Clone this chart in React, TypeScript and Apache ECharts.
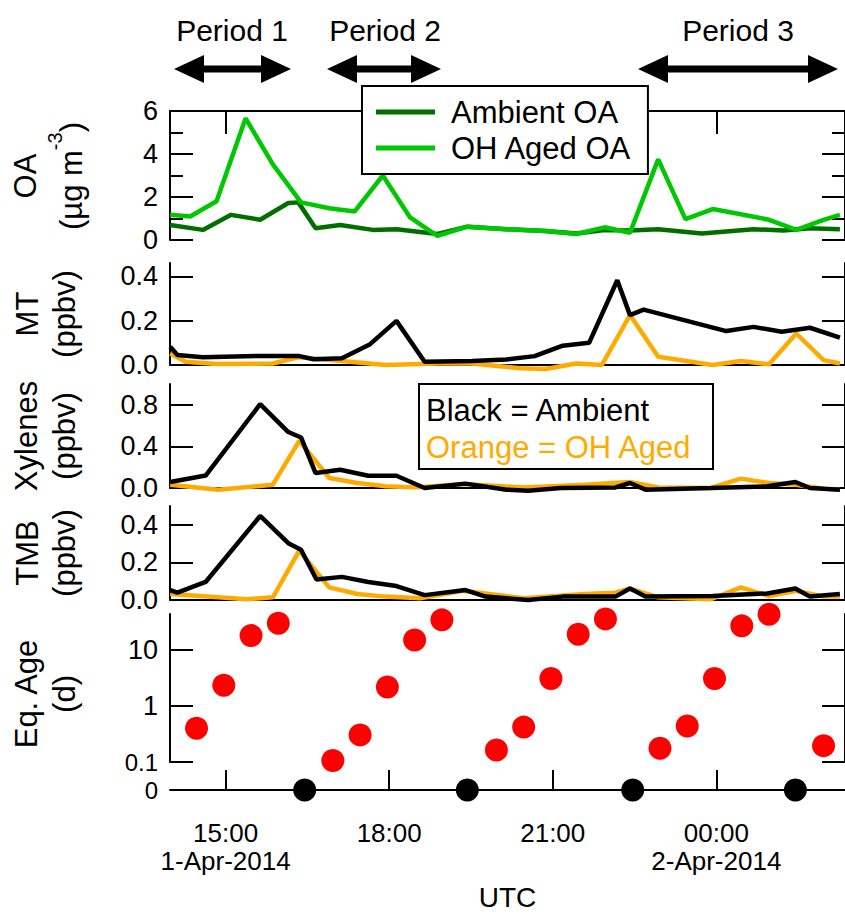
import React, { useEffect, useRef } from 'react';
import * as echarts from 'echarts';

// ---------- data ----------
const xTickHours = [15, 18, 21, 24];
const xTickLabels = ['15:00\n1-Apr-2014', '18:00', '21:00', '00:00\n2-Apr-2014'];

const oaAmbientTimes = ['13:59','14:35','15:06','15:38','16:09','16:20','16:39','17:06','17:42','18:08','18:53','19:26','20:09','20:52','21:26','21:57','22:25','22:56','23:44','00:41','01:14','01:43','02:16'];
const oaAmbient = [0.70,0.47,1.17,0.94,1.72,1.75,0.55,0.70,0.47,0.50,0.28,0.62,0.50,0.42,0.30,0.47,0.44,0.50,0.30,0.50,0.44,0.55,0.50];
const oaAgedTimes = ['13:59','14:21','14:50','15:22','15:52','16:23','16:54','17:22','17:53','18:23','18:53','19:26','20:09','20:52','21:26','21:57','22:25','22:56','23:26','23:56','00:27','00:58','01:28','01:58','02:16'];
const oaAged = [1.17,1.09,1.80,5.66,3.52,1.75,1.48,1.33,3.00,1.05,0.19,0.62,0.50,0.42,0.28,0.59,0.34,3.75,0.97,1.44,1.20,0.94,0.47,0.94,1.17];

const mtAmbientTimes = ['13:59','14:07','14:35','15:38','16:20','16:37','17:08','17:39','18:08','18:39','19:31','20:09','20:40','21:11','21:40','22:11','22:25','22:40','00:11','00:41','01:12','01:43','02:16'];
const mtAmbient = [0.082,0.045,0.035,0.041,0.041,0.026,0.030,0.094,0.199,0.015,0.018,0.025,0.040,0.087,0.100,0.382,0.225,0.250,0.153,0.172,0.150,0.168,0.123];
const mtAgedTimes = ['13:59','14:16','14:50','15:52','16:20','17:08','17:56','18:53','19:31','20:24','20:52','21:26','21:54','22:25','22:56','23:56','00:27','00:58','01:28','01:58','02:16'];
const mtAged = [0.052,0.015,0.004,0.007,0.035,0.018,0.000,0.007,0.007,-0.015,-0.018,0.007,0.000,0.225,0.037,0.000,0.018,0.003,0.142,0.022,0.007];

const xylAmbientTimes = ['13:59','14:38','15:38','16:09','16:23','16:39','17:06','17:37','18:08','18:39','19:24','20:09','20:33','21:09','22:09','22:25','22:42','23:54','00:56','01:27','01:43','02:16'];
const xylAmbient = [0.058,0.120,0.806,0.538,0.486,0.144,0.176,0.118,0.118,0.000,0.042,-0.016,-0.026,0.000,0.006,0.048,-0.016,0.000,0.016,0.058,0.000,-0.016];
const xylAgedTimes = ['13:59','14:52','15:52','16:21','16:54','17:25','17:56','18:29','19:21','20:28','21:35','22:25','22:56','23:54','00:27','00:58','01:28','01:58','02:16'];
const xylAged = [0.032,-0.016,0.032,0.454,0.096,0.048,0.016,0.006,0.038,0.006,0.032,0.058,0.006,0.000,0.090,0.048,0.032,-0.006,-0.016];

const tmbAmbientTimes = ['13:59','14:07','14:38','15:38','16:09','16:23','16:40','17:08','17:37','18:08','18:39','19:24','19:46','20:33','21:11','22:09','22:25','22:42','23:56','00:56','01:27','01:43','02:16'];
const tmbAmbient = [0.053,0.039,0.096,0.447,0.302,0.267,0.109,0.123,0.096,0.074,0.026,0.053,0.018,0.000,0.018,0.018,0.061,0.018,0.021,0.035,0.061,0.018,0.032];
const tmbAgedTimes = ['13:59','14:52','15:23','15:52','16:21','16:54','17:25','17:56','18:34','19:21','20:28','21:35','22:09','22:25','22:56','23:54','00:27','00:58','01:28','01:58','02:16'];
const tmbAged = [0.032,0.014,0.004,0.014,0.263,0.067,0.032,0.018,0.009,0.049,0.009,0.032,0.039,0.061,0.014,0.004,0.067,0.021,0.049,0.018,0.018];

const ageTimes = ['14:28','14:58','15:28','15:58','16:58','17:28','17:58','18:28','18:58','19:58','20:28','20:58','21:28','21:58','22:58','23:28','23:58','00:28','00:58','01:58'];
const ageValues = [0.40,2.35,18.1,30.1,0.106,0.305,2.19,15.1,34.6,0.164,0.42,3.1,19.1,36,0.176,0.44,3.1,27,43.7,0.196];
const zeroAgeTimes = ['16:27','19:26','22:28','01:27'];

// ---------- helpers ----------
const hours = (s: string) => {
  const [h, m] = s.split(':').map(Number);
  return (h < 12 ? h + 24 : h) + m / 60;
};
const pairs = (t: string[], v: number[]) => t.map((s, i) => [hours(s), v[i]]);

const FONT = '"Liberation Sans", Arial, sans-serif';
const XMIN = 13.98;
const XMAX = 26.36;
const DARK_GREEN = '#006f00';
const LIGHT_GREEN = '#00c800';
const ORANGE = '#ffaa00';

const gridDefs = [
  { top: 111, height: 129 },
  { top: 263, height: 102 },
  { top: 384, height: 104 },
  { top: 506, height: 94 },
  { top: 614, height: 148 },
  { top: 762, height: 28 },
];

export default function App() {
  const ref = useRef<HTMLDivElement>(null);
  useEffect(() => {
    if (!ref.current) return;
    const chart = echarts.init(ref.current, null, { renderer: 'svg' });
    const black = '#000';
    const axLine = { show: true, lineStyle: { color: black, width: 2 } };
    const tickStyle = { color: black, width: 2 };
    const smallRich = { s: { fontSize: 24, lineHeight: 22, fontFamily: FONT, color: black } };
    const labelBase = { fontSize: 27, lineHeight: 24, color: black, fontFamily: FONT, margin: 12, rich: smallRich };

    const xAxes = gridDefs.map((_, i) => ({
      type: 'value',
      gridIndex: i,
      min: XMIN,
      max: XMAX,
      position: i === 0 ? 'top' : 'bottom',
      axisLine: { show: i !== 4, onZero: false, lineStyle: { color: black, width: 2 } },
      axisTick: {
        show: i === 0 || i === 5,
        inside: true,
        length: i === 0 ? 23 : 20,
        customValues: xTickHours,
        lineStyle: tickStyle,
      },
      axisLabel: {
        show: i === 5,
        customValues: xTickHours,
        formatter: (v: number) => {
          const k = xTickHours.findIndex((h) => Math.abs(h - v) < 1e-6);
          return k >= 0 ? xTickLabels[k] : '';
        },
        fontSize: 26,
        lineHeight: 28,
        color: black,
        fontFamily: FONT,
        margin: 29,
      },
      splitLine: { show: false },
      name: i === 5 ? 'UTC' : '',
      nameLocation: 'middle',
      nameGap: 93,
      nameTextStyle: { fontSize: 28, color: black, fontFamily: FONT },
    }));

    const yDefs = [
      { min: 0, max: 6, interval: 2, fmt: (v: number) => String(v), minor: true },
      { min: 0, max: 0.46, custom: [0, 0.2, 0.4], fmt: (v: number) => v.toFixed(1) },
      { min: 0, max: 1.0, custom: [0, 0.4, 0.8], fmt: (v: number) => v.toFixed(1) },
      { min: 0, max: 0.5, custom: [0, 0.2, 0.4], fmt: (v: number) => v.toFixed(1) },
      { log: true, min: 0.1, max: 44, custom: [0.1, 1, 10], fmt: (v: number) => (v < 0.5 ? '{s|0.1}' : String(Math.round(v))) },
    ];

    const makeY = (d: any, i: number, right: boolean) => ({
      type: d.log ? 'log' : 'value',
      logBase: 10,
      gridIndex: i,
      position: right ? 'right' : 'left',
      min: d.min,
      max: d.max,
      ...(d.interval ? { interval: d.interval } : {}),
      axisLine: axLine,
      axisTick: {
        show: true,
        inside: true,
        length: 23,
        lineStyle: tickStyle,
        ...(d.custom ? { customValues: d.custom } : {}),
      },
      minorTick: d.minor
        ? { show: true, splitNumber: 2, length: 13, lineStyle: tickStyle }
        : { show: false },
      axisLabel: {
        ...labelBase,
        show: !right,
        formatter: d.fmt,
        ...(d.custom ? { customValues: d.custom } : {}),
      },
      splitLine: { show: false },
      minorSplitLine: { show: false },
    });

    const yAxes: any[] = [];
    yDefs.forEach((d, i) => yAxes.push(makeY(d, i, false)));
    yAxes.push({
      type: 'value',
      gridIndex: 5,
      min: 0,
      max: 1,
      axisLine: { show: false },
      axisTick: { show: false },
      axisLabel: { ...labelBase, customValues: [0], formatter: () => '{s|0}' },
      splitLine: { show: false },
    });
    yDefs.forEach((d, i) => yAxes.push(makeY(d, i, true)));

    const line = (name: string, data: any[], color: string, idx: number, z: number) => ({
      type: 'line',
      name,
      xAxisIndex: idx,
      yAxisIndex: idx,
      data,
      symbol: 'none',
      showSymbol: false,
      clip: false,
      z,
      lineStyle: { color, width: 4.5 },
      itemStyle: { color },
    });

    const arrow = (x1: number, x2: number, y: number) => {
      const hl = 30, hh = 14, sh = 3.5;
      return {
        type: 'polygon',
        shape: {
          points: [
            [x1, y], [x1 + hl, y - hh], [x1 + hl, y - sh], [x2 - hl, y - sh], [x2 - hl, y - hh],
            [x2, y], [x2 - hl, y + hh], [x2 - hl, y + sh], [x1 + hl, y + sh], [x1 + hl, y + hh],
          ],
        },
        style: { fill: black },
      };
    };

    const vText = (text: string, x: number, y: number, rich?: any) => ({
      type: 'text',
      x,
      y,
      rotation: Math.PI / 2,
      style: {
        text,
        fontSize: 31,
        fontFamily: FONT,
        fill: black,
        align: 'center',
        verticalAlign: 'middle',
        ...(rich ? { rich } : {}),
      },
    });

    const hText = (text: string, x: number, y: number, fill: string, align = 'center', size = 30) => ({
      type: 'text',
      x,
      y,
      z: 110,
      style: { text, fontSize: size, fontFamily: FONT, fill, align, verticalAlign: 'middle' },
    });

    const option: any = {
      animation: false,
      backgroundColor: '#fff',
      textStyle: { fontFamily: FONT },
      grid: gridDefs.map((g) => ({ left: 170, width: 686, top: g.top, height: g.height })),
      legend: {
        data: ['Ambient OA', 'OH Aged OA'],
        orient: 'vertical',
        left: 362,
        top: 86,
        itemWidth: 59,
        itemHeight: 5,
        icon: 'rect',
        itemGap: 4,
        padding: [10, 16, 10, 14],
        borderColor: black,
        borderWidth: 2,
        backgroundColor: '#fff',
        selectedMode: false,
        z: 20,
        textStyle: { fontSize: 31, color: black, fontFamily: FONT, lineHeight: 32, padding: [0, 0, 0, 11] },
      },
      xAxis: xAxes,
      yAxis: yAxes,
      series: [
        line('Ambient OA', pairs(oaAmbientTimes, oaAmbient), DARK_GREEN, 0, 2),
        line('OH Aged OA', pairs(oaAgedTimes, oaAged), LIGHT_GREEN, 0, 3),
        line('MT OH Aged', pairs(mtAgedTimes, mtAged), ORANGE, 1, 2),
        line('MT Ambient', pairs(mtAmbientTimes, mtAmbient), black, 1, 3),
        line('Xylenes OH Aged', pairs(xylAgedTimes, xylAged), ORANGE, 2, 2),
        line('Xylenes Ambient', pairs(xylAmbientTimes, xylAmbient), black, 2, 3),
        line('TMB OH Aged', pairs(tmbAgedTimes, tmbAged), ORANGE, 3, 2),
        line('TMB Ambient', pairs(tmbAmbientTimes, tmbAmbient), black, 3, 3),
        {
          type: 'scatter',
          name: 'Eq. Age',
          xAxisIndex: 4,
          yAxisIndex: 4,
          data: pairs(ageTimes, ageValues),
          symbol: 'circle',
          symbolSize: 23,
          clip: false,
          itemStyle: { color: '#ff0000', opacity: 1 },
          z: 5,
        },
        {
          type: 'scatter',
          name: 'Zero Age',
          xAxisIndex: 5,
          yAxisIndex: 5,
          data: zeroAgeTimes.map((t) => [hours(t), 0]),
          symbol: 'circle',
          symbolSize: 23,
          clip: false,
          itemStyle: { color: black, opacity: 1 },
          z: 5,
        },
      ],
      graphic: [
        hText('Period 1', 232, 30, black),
        hText('Period 2', 385, 30, black),
        hText('Period 3', 738, 30, black),
        arrow(174, 291, 69),
        arrow(327, 441, 69),
        arrow(638, 838, 69),
        {
          type: 'rect',
          z: 100,
          shape: { x: 419, y: 384, width: 294, height: 85 },
          style: { fill: '#fff', stroke: black, lineWidth: 2 },
        },
        hText('Black = Ambient', 426, 410, black, 'left', 31),
        hText('Orange = OH Aged', 426, 447, ORANGE, 'left', 31),
        vText('OA', 25, 176),
        vText('{b|(µg m}{s|-3}{b|)}', 66, 176, {
          b: { fontSize: 31, fontFamily: FONT, lineHeight: 42, verticalAlign: 'bottom', fill: black },
          s: { fontSize: 20, fontFamily: FONT, lineHeight: 20, verticalAlign: 'top', fill: black },
        }),
        vText('MT', 27, 314),
        vText('(ppbv)', 64, 314),
        vText('Xylenes', 26, 436),
        vText('(ppbv)', 64, 436),
        vText('TMB', 27, 553),
        vText('(ppbv)', 64, 553),
        vText('Eq. Age', 26, 694),
        vText('(d)', 64, 694),
      ],
    };
    chart.setOption(option);
    return () => chart.dispose();
  }, []);
  return (
    <div
      ref={ref}
      style={{ position: 'absolute', left: 0, top: 0, width: 845, height: 917, background: '#fff' }}
    />
  );
}
